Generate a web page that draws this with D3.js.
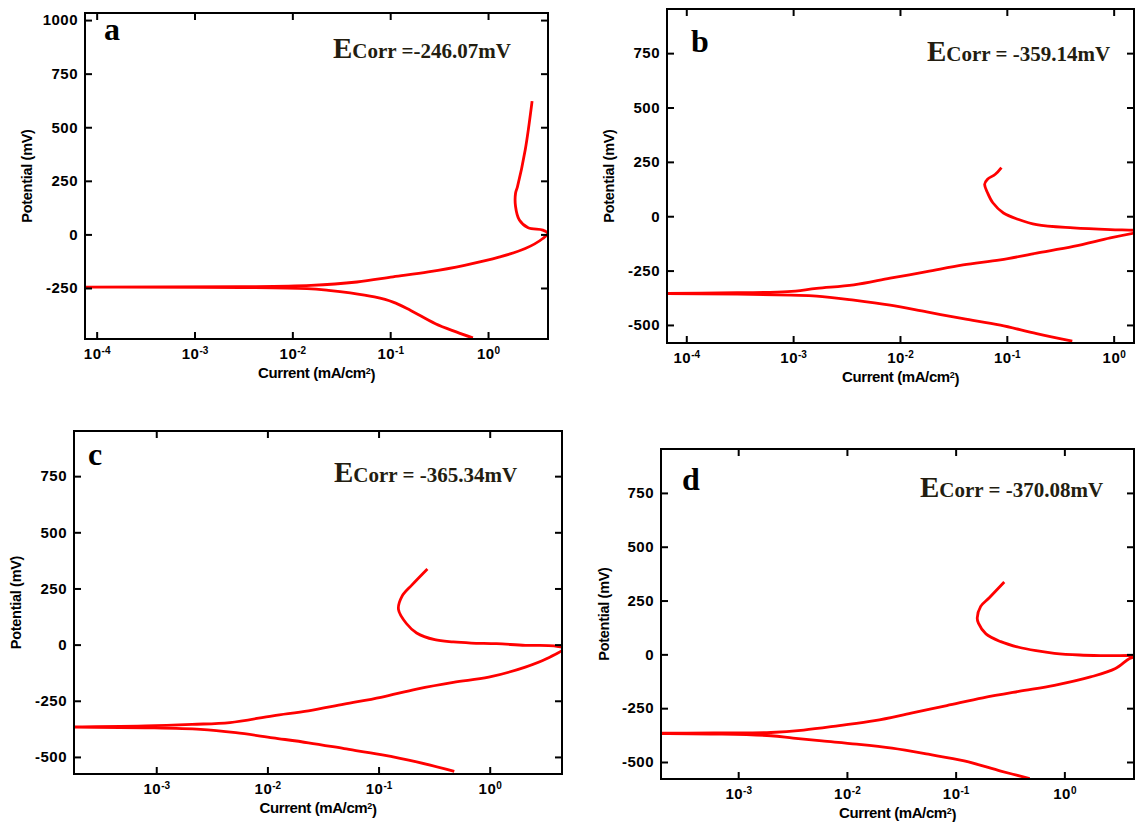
<!DOCTYPE html>
<html>
<head>
<meta charset="utf-8">
<script src="https://cdn.jsdelivr.net/npm/d3@7"></script>
<style>
  body { margin: 0; background: #fff; }
  svg { display: block; }
</style>
</head>
<body>
<script>
// potential (mV) and current (mA/cm2), cathodic end first
const potentialA = [-483, -456, -417, -355, -316, -292, -273, -261, -253, -248, -246, -244, -238, -222, -198, -175, -144, -105, -66, -19, 5, 20, 31, 67, 130, 192, 223, 395, 622];
const currentA   = [0.70, 0.48, 0.29, 0.162, 0.107, 0.069, 0.039, 0.0234, 0.0141, 0.003, 0.00006, 0.003, 0.0155, 0.0457, 0.107, 0.245, 0.575, 1.32, 2.40, 3.63, 4.07, 3.63, 2.57, 2.09, 1.91, 1.91, 2.0, 2.40, 2.82];

const potentialB = [-574, -540, -501, -471, -440, -409, -386, -367, -363, -358, -356, -352, -347, -332, -316, -285, -255, -224, -201, -170, -139, -100, -77, -70, -65, -62, -54, -39, -15, 15, 62, 108, 147, 170, 193, 224];
const currentB   = [0.41, 0.19, 0.087, 0.039, 0.0178, 0.0081, 0.0037, 0.00166, 0.00095, 0.0003, 0.00005, 0.0003, 0.00089, 0.00166, 0.0037, 0.0081, 0.0178, 0.039, 0.087, 0.19, 0.42, 0.93, 1.58, 1.9, 1.6, 0.93, 0.42, 0.19, 0.129, 0.093, 0.074, 0.066, 0.062, 0.066, 0.078, 0.089];

const potentialC = [-564, -522, -490, -463, -437, -415, -392, -377, -370, -367, -362, -355, -347, -317, -295, -265, -235, -198, -168, -145, -100, -63, -18, -6, -3, 4, 7, 12, 22, 52, 94, 157, 214, 266, 337];
const currentC   = [0.48, 0.22, 0.105, 0.049, 0.0234, 0.0112, 0.0052, 0.0025, 0.0008, 0.00015, 0.0008, 0.0021, 0.0046, 0.0112, 0.0234, 0.049, 0.105, 0.22, 0.47, 0.98, 2.09, 3.24, 4.6, 3.8, 2.09, 1.15, 0.68, 0.47, 0.32, 0.22, 0.178, 0.151, 0.162, 0.20, 0.275];

const potentialD = [-577, -542, -495, -464, -436, -417, -402, -389, -378, -370, -367, -365, -363, -352, -331, -308, -273, -238, -202, -172, -144, -105, -66, -19, -8, -6, -3, 5, 17, 33, 59, 95, 145, 169, 223, 263, 336];
const currentD   = [0.48, 0.26, 0.12, 0.056, 0.026, 0.0123, 0.0059, 0.0032, 0.002, 0.0006, 0.00015, 0.0006, 0.002, 0.004, 0.0085, 0.018, 0.039, 0.083, 0.178, 0.38, 0.81, 1.74, 2.95, 3.98, 4.6, 2.5, 1.38, 0.81, 0.55, 0.38, 0.26, 0.19, 0.162, 0.158, 0.17, 0.204, 0.28];

const yTicksA = [-250, 0, 250, 500, 750, 1000];
const yTicksBCD = [-500, -250, 0, 250, 500, 750];
const xTicksAB = [1e-4, 1e-3, 1e-2, 1e-1, 1e0];
const xTicksCD = [1e-3, 1e-2, 1e-1, 1e0];

const panelLetters = ["a", "b", "c", "d"];
const ecorrTexts = ["=-246.07mV", "= -359.14mV", "= -365.34mV", "= -370.08mV"];

// frame boxes and axis extents of the four plots
const panels = [
  { pot: potentialA, cur: currentA, yTicks: yTicksA, xTicks: xTicksAB,
    left: 85, right: 548, top: 13, bottom: 339, xDom: [7.6e-5, 4.1], yDom: [-488, 1033],
    letterX: 104, letterY: 40, ecX: 333, ecY: 58, titleX: 27 },
  { pot: potentialB, cur: currentB, yTicks: yTicksBCD, xTicks: xTicksAB,
    left: 667, right: 1134, top: 9, bottom: 343, xDom: [6.6e-5, 1.55], yDom: [-583, 953],
    letterX: 691, letterY: 52, ecX: 927, ecY: 61, titleX: 609 },
  { pot: potentialC, cur: currentC, yTicks: yTicksBCD, xTicks: xTicksCD,
    left: 74, right: 562, top: 431, bottom: 774, xDom: [1.82e-4, 4.47], yDom: [-576, 951],
    letterX: 88, letterY: 465, ecX: 334, ecY: 482, titleX: 16 },
  { pot: potentialD, cur: currentD, yTicks: yTicksBCD, xTicks: xTicksCD,
    left: 661, right: 1134, top: 449, bottom: 779, xDom: [1.95e-4, 4.37], yDom: [-579, 954],
    letterX: 682, letterY: 490, ecX: 920, ecY: 497, titleX: 604 }
];

const sansFont = "'Liberation Sans', Arial, sans-serif";
const serifFont = "'Liberation Serif', 'Times New Roman', serif";

const svg = d3.select("body").append("svg")
    .attr("width", 1135)
    .attr("height", 822)
    .attr("font-family", sansFont);

panels.forEach((p, i) => {
  const x = d3.scaleLog().domain(p.xDom).range([p.left, p.right]);
  const y = d3.scaleLinear().domain(p.yDom).range([p.bottom, p.top]);
  const g = svg.append("g");

  g.append("clipPath").attr("id", "clip" + i)
    .append("rect")
      .attr("x", p.left).attr("y", p.top)
      .attr("width", p.right - p.left).attr("height", p.bottom - p.top);

  const line = d3.line()
      .x(d => x(d[0]))
      .y(d => y(d[1]))
      .curve(d3.curveCatmullRom.alpha(0.5));

  g.append("path")
      .datum(d3.zip(p.cur, p.pot))
      .attr("clip-path", `url(#clip${i})`)
      .attr("fill", "none")
      .attr("stroke", "#ff0000")
      .attr("stroke-width", 2.8)
      .attr("stroke-linejoin", "round")
      .attr("d", line);

  // inward ticks on all four sides
  const tick = 7;
  const bottomAxis = g.append("g")
      .attr("transform", `translate(0,${p.bottom})`)
      .call(d3.axisBottom(x).tickValues(p.xTicks).tickSize(-tick).tickPadding(9).tickFormat(() => ""));
  g.append("g")
      .attr("transform", `translate(0,${p.top})`)
      .call(d3.axisTop(x).tickValues(p.xTicks).tickSize(-tick).tickFormat(() => ""));
  g.append("g")
      .attr("transform", `translate(${p.left},0)`)
      .call(d3.axisLeft(y).tickValues(p.yTicks).tickSize(-tick).tickPadding(7).tickFormat(d => String(d)));
  g.append("g")
      .attr("transform", `translate(${p.right},0)`)
      .call(d3.axisRight(y).tickValues(p.yTicks).tickSize(-tick).tickFormat(() => ""));

  g.selectAll(".domain").remove();
  g.selectAll(".tick line").attr("stroke", "#000").attr("stroke-width", 2);
  g.selectAll(".tick text")
      .attr("fill", "#000")
      .attr("font-family", sansFont)
      .attr("font-size", 15)
      .attr("font-weight", "bold")
      .attr("letter-spacing", 0.5);

  bottomAxis.selectAll(".tick text").each(function(d) {
    const t = d3.select(this).text(null);
    t.append("tspan").text("10");
    t.append("tspan")
        .attr("dy", "-0.45em")
        .attr("font-size", 10)
        .attr("letter-spacing", 0)
        .text(Math.round(Math.log10(d)));
  });

  g.append("rect")
      .attr("x", p.left).attr("y", p.top)
      .attr("width", p.right - p.left).attr("height", p.bottom - p.top)
      .attr("fill", "none")
      .attr("stroke", "#000")
      .attr("stroke-width", 2);

  g.append("text")
      .attr("x", (p.left + p.right) / 2)
      .attr("y", p.bottom + 39)
      .attr("text-anchor", "middle")
      .attr("font-size", 15)
      .attr("font-weight", "bold")
      .attr("letter-spacing", -0.4)
      .call(t => {
        t.append("tspan").text("Current (mA/cm");
        t.append("tspan").attr("dy", "-0.4em").attr("font-size", 9).text("2");
        t.append("tspan").attr("dy", "0.4em").text(")");
      });

  g.append("text")
      .attr("transform", `translate(${p.titleX},${(p.top + p.bottom) / 2}) rotate(-90)`)
      .attr("dy", "0.35em")
      .attr("text-anchor", "middle")
      .attr("font-size", 14.5)
      .attr("font-weight", "bold")
      .attr("letter-spacing", -0.3)
      .text("Potential (mV)");

  g.append("text")
      .attr("x", p.letterX)
      .attr("y", p.letterY)
      .attr("font-family", serifFont)
      .attr("font-weight", "bold")
      .attr("font-size", 32)
      .text(panelLetters[i]);

  g.append("text")
      .attr("x", p.ecX)
      .attr("y", p.ecY)
      .attr("font-family", serifFont)
      .attr("font-weight", "bold")
      .attr("fill", "#231d10")
      .call(t => {
        t.append("tspan").attr("font-size", 29).text("E");
        t.append("tspan").attr("font-size", 21).text("Corr ");
        t.append("tspan").attr("font-size", 21).text(ecorrTexts[i]);
      });
});
</script>
</body>
</html>
